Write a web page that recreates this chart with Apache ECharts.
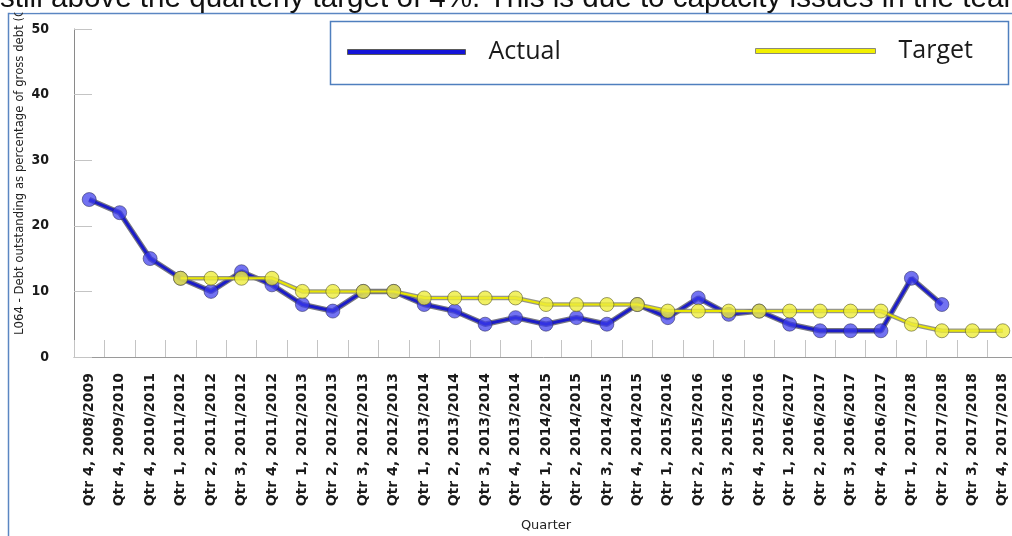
<!DOCTYPE html>
<html>
<head>
<meta charset="utf-8">
<script src="https://cdn.jsdelivr.net/npm/echarts@6/dist/echarts.min.js"></script>
<style>
html,body{margin:0;padding:0;background:#fff;}
#chart{width:1012px;height:536px;}
</style>
</head>
<body>
<div id="chart"></div>
<script>
var categories = ['Qtr 4, 2008/2009','Qtr 4, 2009/2010','Qtr 4, 2010/2011','Qtr 1, 2011/2012','Qtr 2, 2011/2012','Qtr 3, 2011/2012','Qtr 4, 2011/2012','Qtr 1, 2012/2013','Qtr 2, 2012/2013','Qtr 3, 2012/2013','Qtr 4, 2012/2013','Qtr 1, 2013/2014','Qtr 2, 2013/2014','Qtr 3, 2013/2014','Qtr 4, 2013/2014','Qtr 1, 2014/2015','Qtr 2, 2014/2015','Qtr 3, 2014/2015','Qtr 4, 2014/2015','Qtr 1, 2015/2016','Qtr 2, 2015/2016','Qtr 3, 2015/2016','Qtr 4, 2015/2016','Qtr 1, 2016/2017','Qtr 2, 2016/2017','Qtr 3, 2016/2017','Qtr 4, 2016/2017','Qtr 1, 2017/2018','Qtr 2, 2017/2018','Qtr 3, 2017/2018','Qtr 4, 2017/2018'];
var actualValues = [24,22,15,12,10,13,11,8,7,10,10,8,7,5,6,5,6,5,8,6,9,6.5,7,5,4,4,4,12,8,null,null];
var targetValues = [null,null,null,12,12,12,12,10,10,10,10,9,9,9,9,8,8,8,8,7,7,7,7,7,7,7,7,5,4,4,4];
var yTicks = {min:0, max:50, interval:10};
var yTitle = 'L064 - Debt outstanding as percentage of gross debt (Quarterly)';
var xTitle = 'Quarter';
var docText = 'still above the quarterly target of 4%. This is due to capacity issues in the team';

var chart = echarts.init(document.getElementById('chart'), null, {renderer:'canvas'});
var legendText = {fontFamily:'Open Sans', fontSize:25, color:'#1a1a1a', lineHeight:26, padding:[0,0,8,18]};
var option = {
  animation:false,
  backgroundColor:'#ffffff',
  grid:{left:74, width:944, top:29, bottom:179, containLabel:false, outerBoundsMode:'none'},
  legend:[
    {data:[{name:'Actual', icon:'rect', itemStyle:{color:'#1414d8', borderColor:'#5a5a5a', borderWidth:1}}],
     left:347, top:35, padding:0, itemWidth:118, itemHeight:5, textStyle:legendText, selectedMode:false},
    {data:[{name:'Target', icon:'rect', itemStyle:{color:'#f2f000', borderColor:'#8a8a7a', borderWidth:1}}],
     left:755, top:37, padding:0, itemWidth:120, itemHeight:5, textStyle:{fontFamily:'Open Sans', fontSize:25, color:'#1a1a1a', lineHeight:26, padding:[0,0,2,18]}, selectedMode:false}
  ],
  xAxis:{
    type:'category', data:categories, boundaryGap:true,
    name:xTitle, nameLocation:'middle', nameGap:162,
    nameTextStyle:{fontFamily:'DejaVu Sans', fontSize:13, color:'#222'},
    axisLine:{show:true, lineStyle:{color:'#9a9a9a', width:1}},
    axisTick:{show:true, inside:true, length:17, interval:0, lineStyle:{color:'#c4c4c4'}},
    axisLabel:{rotate:90, interval:0, margin:16, fontFamily:'DejaVu Sans', fontWeight:'bold', fontSize:14, color:'#1a1a1a'},
    splitLine:{show:false}
  },
  yAxis:{
    type:'value', min:yTicks.min, max:yTicks.max, interval:yTicks.interval,
    axisLine:{show:true, lineStyle:{color:'#8a8a8a', width:1}},
    axisTick:{show:true, inside:true, length:18, lineStyle:{color:'#c4c4c4'}},
    axisLabel:{margin:25, fontFamily:'DejaVu Sans Condensed', fontWeight:'bold', fontSize:14, color:'#1a1a1a'},
    splitLine:{show:false}
  },
  series:[
    {name:'ActualOutline', type:'line', data:actualValues, symbol:'none', silent:true, z:1,
     lineStyle:{color:'#4a4a5a', width:5.5, opacity:0.75}},
    {name:'Actual', type:'line', data:actualValues, symbol:'circle', symbolSize:14, z:2,
     lineStyle:{color:'#1c1cc8', width:3},
     itemStyle:{color:'rgba(60,60,235,0.72)', borderColor:'rgba(40,40,90,0.55)', borderWidth:1}},
    {name:'TargetOutline', type:'line', data:targetValues, symbol:'none', silent:true, z:3,
     lineStyle:{color:'#7d7d6a', width:4.5, opacity:0.8}},
    {name:'Target', type:'line', data:targetValues, symbol:'circle', symbolSize:14, z:4,
     lineStyle:{color:'#e8e600', width:2},
     itemStyle:{color:'rgba(238,236,60,0.8)', borderColor:'rgba(90,90,40,0.6)', borderWidth:1}}
  ],
  graphic:[
    {type:'polyline', z:10, shape:{points:[[8.5,540],[8.5,13.5],[1020,13.5]]}, style:{stroke:'#5b86c2', lineWidth:1.5, fill:null}},
    {type:'rect', z:10, shape:{x:330.5, y:21.5, width:678, height:63}, style:{stroke:'#4f7fbe', lineWidth:1.5, fill:null}},
    {type:'text', z:11, x:20, y:335, rotation:Math.PI/2,
     style:{text:yTitle, font:'11.7px "DejaVu Sans"', fill:'#222', align:'left', verticalAlign:'middle'}},
    {type:'rect', z:12, shape:{x:10, y:0, width:30, height:12.6}, style:{fill:'#ffffff'}},
    {type:'text', z:13, x:0, y:14, style:{text:docText, font:'29.6px "Liberation Sans"', fill:'#111', align:'left', verticalAlign:'bottom'}}
  ]
};
chart.setOption(option);
</script>
</body>
</html>
